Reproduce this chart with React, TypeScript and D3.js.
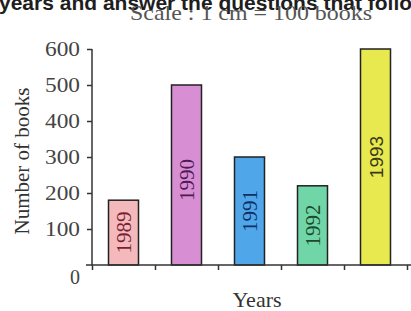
import { useEffect, useRef } from 'react';
import * as d3 from 'd3';

const years = ['1989', '1990', '1991', '1992', '1993'];
const books = [180, 500, 300, 220, 600];
const barColors = ['#f3b9bb', '#d88ed2', '#4fa7ea', '#70d6a7', '#e7e94f'];
const labelColors = ['#7a1f35', '#4f1a55', '#0f2f66', '#1c4a2c', '#3a3a1a'];
const yTicks = [100, 200, 300, 400, 500, 600];

export default function App() {
  const svgRef = useRef<SVGSVGElement>(null);

  useEffect(() => {
    if (!svgRef.current) return;
    const svg = d3.select(svgRef.current);
    svg.selectAll('*').remove();

    const serif = '"Liberation Serif", "Times New Roman", serif';
    const sans = '"Liberation Sans", Arial, sans-serif';
    const x0 = 92, x1 = 407, yBase = 265, yTop = 49;

    const x = d3.scaleBand<string>().domain(years).range([x0, x1]);
    const y = d3.scaleLinear().domain([0, 600]).range([yBase, yTop]);
    const edges = d3.scaleLinear().domain([0, years.length]).range([x0, x1]);

    // header text (cut off at the top and right)
    svg.append('text')
      .attr('x', -1)
      .attr('y', 10)
      .attr('font-family', sans)
      .attr('font-weight', 'bold')
      .attr('font-size', '21px')
      .attr('fill', '#1e1e1e')
      .text('years and answer the questions that follow');

    svg.append('text')
      .attr('x', 130)
      .attr('y', 20)
      .attr('font-family', serif)
      .attr('font-size', '21px')
      .attr('fill', '#555')
      .attr('textLength', 242)
      .attr('lengthAdjust', 'spacingAndGlyphs')
      .text('Scale : 1 cm = 100 books');

    // bars
    const barW = 30;
    const bars = svg.append('g');
    years.forEach((yr, i) => {
      const cx = (x(yr) ?? 0) + x.bandwidth() / 2;
      bars.append('rect')
        .attr('x', cx - barW / 2)
        .attr('y', y(books[i]))
        .attr('width', barW)
        .attr('height', yBase - y(books[i]))
        .attr('fill', barColors[i])
        .attr('stroke', '#222')
        .attr('stroke-width', 1.5);

      const cy = (y(books[i]) + yBase) / 2 + (yr === '1990' ? 5 : 0);
      bars.append('text')
        .attr('transform', `translate(${cx + 7}, ${cy}) rotate(-90)`)
        .attr('text-anchor', 'middle')
        .attr('font-family', yr === '1993' ? sans : serif)
        .attr('font-size', yr === '1993' ? '19px' : '21px')
        .attr('fill', labelColors[i])
        .text(yr);
    });

    // y axis
    const yAxis = svg.append('g')
      .attr('transform', `translate(${x0}, 0)`)
      .call(d3.axisLeft(y).tickValues(yTicks).tickSize(5).tickPadding(7).tickSizeOuter(0));
    yAxis.select('.domain').attr('stroke', '#333').attr('stroke-width', 1.5).attr('d', `M0,${yTop}V${yBase}`);
    yAxis.selectAll('.tick line').attr('stroke', '#333').attr('stroke-width', 1.5);
    yAxis.selectAll('.tick text')
      .attr('font-family', serif)
      .attr('font-size', '20px')
      .attr('fill', '#444')
      .attr('textLength', 35)
      .attr('lengthAdjust', 'spacingAndGlyphs');

    // x axis with ticks at band edges
    const xAxis = svg.append('g')
      .attr('transform', `translate(0, ${yBase})`)
      .call(d3.axisBottom(edges).ticks(years.length).tickSize(5).tickFormat(() => ''));
    xAxis.select('.domain').attr('stroke', '#333').attr('stroke-width', 1.5).attr('d', `M${x0 - 6},0H${411}`);
    xAxis.selectAll('.tick line').attr('stroke', '#333').attr('stroke-width', 1.5);

    svg.append('text')
      .attr('x', x0 - 12)
      .attr('y', yBase + 19)
      .attr('text-anchor', 'end')
      .attr('font-family', serif)
      .attr('font-size', '20px')
      .attr('fill', '#444')
      .text('0');

    // axis titles
    svg.append('text')
      .attr('transform', `translate(29, ${(yTop + yBase) / 2 + 4}) rotate(-90)`)
      .attr('text-anchor', 'middle')
      .attr('font-family', serif)
      .attr('font-size', '21px')
      .attr('fill', '#333')
      .text('Number of books');

    svg.append('text')
      .attr('x', 257)
      .attr('y', 307)
      .attr('text-anchor', 'middle')
      .attr('font-family', serif)
      .attr('font-size', '22px')
      .attr('fill', '#333')
      .text('Years');
  }, []);

  return (
    <svg
      ref={svgRef}
      width={411}
      height={311}
      style={{ position: 'absolute', left: 0, top: 0, background: '#fff' }}
    />
  );
}
